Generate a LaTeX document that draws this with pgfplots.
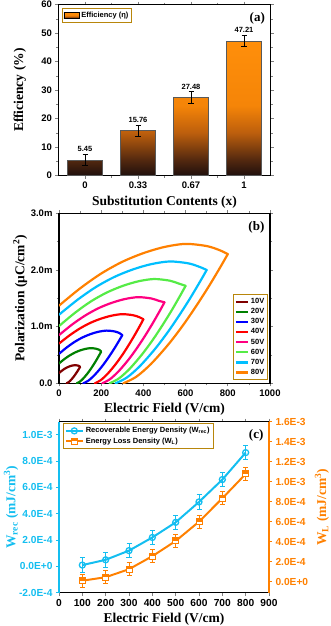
\documentclass[border=0pt]{standalone}
\usepackage{fontspec}
\setmainfont{Liberation Serif}
\setsansfont{Liberation Sans}
\usepackage{pgfplots}
\pgfplotsset{compat=1.18}

\definecolor{legbox}{RGB}{184,134,11}
\definecolor{c10}{RGB}{128,0,0}
\definecolor{c20}{RGB}{0,128,0}
\definecolor{c30}{RGB}{0,0,255}
\definecolor{c40}{RGB}{255,0,0}
\definecolor{c50}{RGB}{255,0,128}
\definecolor{c60}{RGB}{85,235,70}
\definecolor{c70}{RGB}{0,191,255}
\definecolor{c80}{RGB}{255,128,0}
\definecolor{wcyan}{RGB}{20,190,240}
\definecolor{worange}{RGB}{255,128,0}

% bar gradient: dark at the bottom, orange in the upper half
\pgfdeclareverticalshading{barshade}{100bp}{%
  rgb(0bp)=(0.12,0.06,0.05); rgb(25bp)=(0.12,0.06,0.05);
  rgb(31bp)=(0.33,0.16,0.06); rgb(41bp)=(0.74,0.37,0.05);
  rgb(51bp)=(0.96,0.52,0.03); rgb(75bp)=(1,0.56,0.04); rgb(100bp)=(1,0.56,0.04)}

% half filled square (upper half coloured)
\pgfdeclareplotmark{hsq}{%
  \begin{pgfscope}
    \pgfsetfillcolor{white}
    \pgfpathrectangle{\pgfqpoint{-\pgfplotmarksize}{-\pgfplotmarksize}}{\pgfqpoint{2\pgfplotmarksize}{2\pgfplotmarksize}}
    \pgfusepathqfill
  \end{pgfscope}
  \pgfpathrectangle{\pgfqpoint{-\pgfplotmarksize}{0pt}}{\pgfqpoint{2\pgfplotmarksize}{\pgfplotmarksize}}
  \pgfusepathqfill
  \pgfpathrectangle{\pgfqpoint{-\pgfplotmarksize}{-\pgfplotmarksize}}{\pgfqpoint{2\pgfplotmarksize}{2\pgfplotmarksize}}
  \pgfusepathqstroke}

\newcommand\tickfont{\sffamily\bfseries\fontsize{9.5bp}{11bp}\selectfont}
\newcommand\tickfontc{\sffamily\bfseries\fontsize{10.2bp}{12bp}\selectfont}
\newcommand\labfont{\rmfamily\bfseries\fontsize{13.5bp}{15bp}\selectfont}
\newcommand\legfont{\sffamily\bfseries\fontsize{7.5bp}{9bp}\selectfont}
\newcommand\panfont{\rmfamily\bfseries\fontsize{13bp}{15bp}\selectfont}

\pgfplotsset{
  panel/.style={
    scale only axis,
    axis line style={line width=1.2bp},
    tick style={line width=0.8bp},
    major tick length=3bp, minor tick length=2bp,
    tick align=outside,
    tick label style={font=\tickfont},
    label style={font=\labfont},
    /pgf/number format/assume math mode=true,
    /pgf/number format/1000 sep={},
  },
  ylab/.style={ylabel style={at={(axis description cs:#1,0.5)}, anchor=center}},
  loop/.style={#1, smooth, line width=2.2bp, line cap=round},
}

\begin{document}
\begin{tikzpicture}
\useasboundingbox (0,0) rectangle (331bp,626bp);

% ---------------- (a) efficiency
\begin{axis}[panel,
  at={(58.5bp,450.3bp)}, anchor=south west,
  width=212bp, height=171bp,
  xmin=-0.5, xmax=3.5, ymin=0, ymax=60,
  xtick={0,1,2,3}, xticklabels={0,0.33,0.67,1},
  ytick={0,10,...,60},
  minor x tick num=1, minor y tick num=1,
  xlabel={Substitution Contents (x)},
  ylabel={Efficiency (\%)}, ylab=-0.182,
  legend style={at={(0.015,0.98)}, anchor=north west, draw=legbox,
    line width=1bp, font=\legfont, inner sep=1.5bp},
]
\addplot[ybar, bar width=0.66, bar shift=0pt, draw=black!65, line width=0.6bp,
  shade, shading=barshade,
  legend image code/.code={\path[draw=black, line width=0.6bp, shade, shading=barshade]
    (0bp,-3bp) rectangle (15bp,3bp);}]
  coordinates {(0,5.45) (1,15.76) (2,27.48) (3,47.21)};
\addlegendentry{Efficiency (η)}
\addplot[draw=none, mark=none, forget plot,
  nodes near coords,
  nodes near coords style={font=\legfont, text=black, anchor=south, inner sep=0pt, yshift=8bp,
    /pgf/number format/fixed, /pgf/number format/precision=2, /pgf/number format/fixed zerofill},
  error bars/.cd, y dir=both, y explicit,
  error bar style={draw=black, line width=0.9bp},
  error mark options={draw=black, rotate=90, mark size=2.5bp, line width=0.9bp}]
  coordinates {
    (0,5.45) +- (0,2.0)
    (1,15.76) +- (0,2.0)
    (2,27.48) +- (0,2.0)
    (3,47.21) +- (0,2.0)
  };
\node[font=\panfont, anchor=north east] at (rel axis cs:0.99,0.975) {(a)};
\end{axis}

% ---------------- (b) P-E loops
\begin{axis}[panel,
  at={(59bp,242.7bp)}, anchor=south west,
  width=211bp, height=170bp,
  xmin=0, xmax=1000, ymin=0, ymax=3,
  xtick={0,200,...,1000},
  ytick={0,1,2,3}, yticklabels={0.0,1.0m,2.0m,3.0m},
  minor x tick num=1, minor y tick num=1,
  xlabel={Electric Field (V/cm)},
  ylabel={Polarization (μC/cm\textsuperscript{2})}, ylab=-0.184,
  legend style={at={(0.992,0.02)}, anchor=south east, draw=legbox,
    line width=1bp, font=\legfont, row sep=-0.6bp, inner sep=1.5bp},
  legend cell align=left,
  legend image code/.code={\draw[#1, line cap=butt] (0bp,0bp) -- (12bp,0bp);},
]
\addplot[loop=c10] coordinates {(0,0.18) (12.5,0.219) (25,0.253) (37.5,0.279) (50,0.299) (62.5,0.313) (75,0.32) (87.5,0.315) (95,0.306) (100,0.29)};
\addlegendentry{10V}
\addplot[loop=c20] coordinates {(0,0.35) (25,0.426) (50,0.490) (75,0.542) (100,0.580) (125,0.607) (150,0.62) (175,0.611) (190,0.593) (200,0.56)};
\addlegendentry{20V}
\addplot[loop=c30] coordinates {(0,0.52) (37.5,0.635) (75,0.733) (112.5,0.811) (150,0.869) (187.5,0.910) (225,0.93) (262.5,0.916) (285,0.889) (300,0.85)};
\addlegendentry{30V}
\addplot[loop=c40] coordinates {(0,0.70) (50,0.846) (100,0.970) (150,1.069) (200,1.142) (250,1.194) (300,1.22) (350,1.202) (380,1.168) (400,1.13)};
\addlegendentry{40V}
\addplot[loop=c50] coordinates {(0,0.85) (62.5,1.038) (125,1.198) (187.5,1.326) (250,1.420) (312.5,1.487) (375,1.52) (437.5,1.497) (475,1.453) (500,1.43)};
\addlegendentry{50V}
\addplot[loop=c60] coordinates {(0,1.01) (75,1.242) (150,1.442) (225,1.599) (300,1.716) (375,1.799) (450,1.84) (525,1.811) (570,1.757) (600,1.72)};
\addlegendentry{60V}
\addplot[loop=c70] coordinates {(0,1.21) (87.5,1.473) (175,1.699) (262.5,1.877) (350,2.009) (437.5,2.103) (525,2.15) (612.5,2.117) (665,2.056) (700,2.00)};
\addlegendentry{70V}
\addplot[loop=c80] coordinates {(0,1.37) (100,1.675) (200,1.937) (300,2.144) (400,2.297) (500,2.406) (600,2.46) (700,2.422) (760,2.351) (800,2.28)};
\addlegendentry{80V}
% descending branches
\addplot[loop=c10, forget plot] coordinates {(100,0.29) (95.5,0.261) (88.4,0.218) (80.7,0.174) (72.6,0.131) (63.5,0.087) (53.0,0.044) (43.9,0.015) (36,0)};
\addplot[loop=c20, forget plot] coordinates {(200,0.56) (191.8,0.504) (178.9,0.42) (165.1,0.336) (150.4,0.252) (133.9,0.168) (114.7,0.084) (98.3,0.028) (84,0)};
\addplot[loop=c30, forget plot] coordinates {(300,0.85) (286.9,0.765) (266.3,0.638) (244.3,0.51) (220.8,0.383) (194.6,0.255) (164.0,0.128) (137.8,0.043) (115,0)};
\addplot[loop=c40, forget plot] coordinates {(400,1.13) (383.7,1.017) (358.1,0.848) (330.8,0.678) (301.6,0.509) (268.9,0.339) (231.0,0.170) (198.3,0.057) (170,0)};
\addplot[loop=c50, forget plot] coordinates {(500,1.43) (479.1,1.287) (446.3,1.073) (411.2,0.858) (373.7,0.644) (331.9,0.429) (283.2,0.215) (241.3,0.072) (205,0)};
\addplot[loop=c60, forget plot] coordinates {(600,1.72) (574.4,1.548) (534.5,1.29) (491.6,1.032) (445.9,0.774) (394.8,0.516) (335.4,0.258) (284.3,0.086) (240,0)};
\addplot[loop=c70, forget plot] coordinates {(700,2.00) (669.3,1.80) (621.4,1.50) (570.0,1.20) (515.1,0.90) (453.8,0.60) (382.5,0.30) (321.1,0.10) (268,0)};
\addplot[loop=c80, forget plot] coordinates {(800,2.28) (764.9,2.052) (709.9,1.71) (651.0,1.368) (588.1,1.026) (517.9,0.684) (436.2,0.342) (365.9,0.114) (305,0)};
\node[font=\panfont, anchor=north east] at (rel axis cs:0.99,0.975) {(b)};
\end{axis}

% ---------------- (c) energy densities
\begin{axis}[panel,
  at={(59bp,33.3bp)}, anchor=south west,
  width=210bp, height=171bp,
  xmin=0, xmax=900, ymin=-2, ymax=11,
  xtick={0,100,...,900},
  ytick={-2,0,...,10},
  yticklabels={-2.0E-4,0.0E+0,2.0E-4,4.0E-4,6.0E-4,8.0E-4,1.0E-3},
  tick label style={font=\tickfontc},
  axis x line*=box, axis y line*=left,
  y axis line style={draw=wcyan},
  ytick style={draw=wcyan},
  yticklabel style={text=wcyan},
  xlabel={Electric Field (V/cm)},
  ylabel={W\textsubscript{rec} (mJ/cm\textsuperscript{3})}, ylab=-0.228,
  ylabel style={text=wcyan},
  legend style={at={(0.018,0.99)}, anchor=north west, draw=legbox,
    line width=1bp, font=\legfont, inner sep=1.5bp, row sep=-0.5bp},
  legend cell align=left,
]
\addplot[wcyan, line width=2bp, mark=o, mark size=3bp,
  mark options={fill=white, line width=1.3bp},
  error bars/.cd, y dir=both, y explicit,
  error bar style={draw=wcyan, line width=1bp},
  error mark options={draw=wcyan, rotate=90, mark size=2.5bp, line width=1bp}]
  coordinates {
    (100,0.1) +- (0,0.55)
    (200,0.5) +- (0,0.55)
    (300,1.2) +- (0,0.55)
    (400,2.2) +- (0,0.55)
    (500,3.35) +- (0,0.55)
    (600,4.9) +- (0,0.55)
    (700,6.6) +- (0,0.55)
    (800,8.65) +- (0,0.55)
  };
\addlegendentry{Recoverable Energy Density (W\textsubscript{rec})}
\addlegendimage{worange, line width=2bp, mark=hsq, mark size=3bp,
  mark options={fill=worange, draw=worange, line width=1bp}}
\addlegendentry{Energy Loss Density (W\textsubscript{L})}
\node[font=\panfont, anchor=north east] at (rel axis cs:0.99,0.975) {(c)};
\end{axis}
\begin{axis}[panel,
  at={(59bp,33.3bp)}, anchor=south west,
  width=210bp, height=171bp,
  xmin=0, xmax=900, ymin=-1.1, ymax=16,
  ytick={0,2,...,16},
  yticklabels={0.0E+0,2.0E-4,4.0E-4,6.0E-4,8.0E-4,1.0E-3,1.2E-3,1.4E-3,1.6E-3},
  tick label style={font=\tickfontc},
  axis x line=none, axis y line*=right,
  y axis line style={draw=worange},
  ytick style={draw=worange},
  yticklabel style={text=worange},
  ylabel={W\textsubscript{L} (mJ/cm\textsuperscript{3})}, ylab=1.252,
  ylabel style={text=worange},
]
\addplot[worange, line width=2bp, mark=hsq, mark size=3bp,
  mark options={fill=worange, draw=worange, line width=1bp},
  error bars/.cd, y dir=both, y explicit,
  error bar style={draw=worange, line width=1bp},
  error mark options={draw=worange, rotate=90, mark size=2.5bp, line width=1bp}]
  coordinates {
    (100,0.1) +- (0,0.65)
    (200,0.45) +- (0,0.65)
    (300,1.25) +- (0,0.65)
    (400,2.55) +- (0,0.65)
    (500,4.07) +- (0,0.65)
    (600,6.0) +- (0,0.65)
    (700,8.34) +- (0,0.65)
    (800,10.77) +- (0,0.65)
  };
\end{axis}
\end{tikzpicture}
\end{document}
